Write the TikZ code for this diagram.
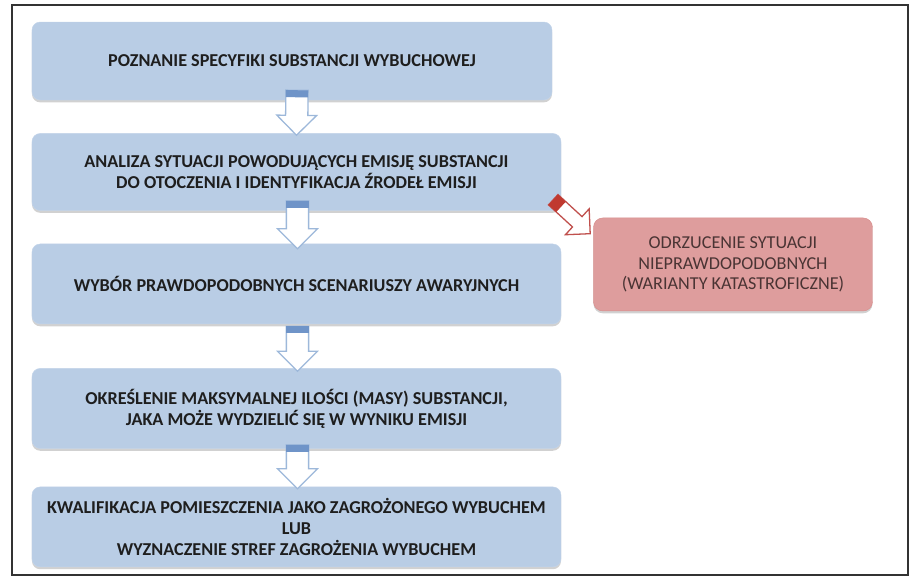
\documentclass[tikz,border=0pt]{standalone}
\usepackage{fontspec}
\setmainfont{Carlito}
\usepackage{tikz}
\usetikzlibrary{positioning, calc, shadows}
\definecolor{boxblue}{HTML}{B9CDE5}
\definecolor{arrblue}{HTML}{9DB8DA}
\definecolor{tailblue}{HTML}{6F94C8}
\definecolor{boxred}{HTML}{DE9D9D}
\definecolor{edgered}{HTML}{C0504D}
\definecolor{tailred}{HTML}{C0392F}
\definecolor{textdark}{HTML}{1E1E1E}
\definecolor{textbrown}{HTML}{4A3434}
\definecolor{framegray}{HTML}{333333}

% hollow block arrow: outline, tail colour, from, to, half shaft, half head, head length, tail length
\newcommand\blockarr[8]{%
  \draw[fill=white, draw=#1, line width=1.1pt, line join=miter]
    let \p1=(#3), \p2=(#4), \n1={atan2(\y2-\y1,\x2-\x1)}, \n2={veclen(\x2-\x1,\y2-\y1)} in
    [shift={(\p1)}, rotate=\n1]
    (0pt,-#5) -- (\n2-#7,-#5) -- (\n2-#7,-#6) -- (\n2,0pt) -- (\n2-#7,#6) -- (\n2-#7,#5) -- (0pt,#5) -- cycle;
  \fill[#2]
    let \p1=(#3), \p2=(#4), \n1={atan2(\y2-\y1,\x2-\x1)} in
    [shift={(\p1)}, rotate=\n1]
    (0pt,-#5) rectangle (#8,#5);
}

\begin{document}
\begin{tikzpicture}[
  x=0.03cm, y=-0.03cm,
  stepbox/.style={rectangle, rounded corners=7pt, fill=boxblue, draw=boxblue!85!white,
                  minimum width=15.87cm, minimum height=2.4cm,
                  font=\fontsize{15.5}{18}\selectfont\bfseries, text=textdark, align=center,
                  drop shadow={shadow xshift=0pt, shadow yshift=-2pt, fill=black!40, opacity=0.45}},
  rejbox/.style={rectangle, rounded corners=8pt, fill=boxred, draw=boxred!80!edgered,
                 minimum width=8.37cm, minimum height=2.79cm,
                 font=\fontsize{15.5}{17.5}\selectfont, text=textbrown, align=center,
                 drop shadow={shadow xshift=0pt, shadow yshift=-2pt, fill=black!40, opacity=0.45}},
]
\useasboundingbox (0,0) rectangle (911,575);
\draw[framegray, line width=0.9pt] (12,5) rectangle (908,575);

\node[stepbox, minimum width=15.6cm, minimum height=2.34cm] (spec) at (292,61)
  {POZNANIE SPECYFIKI SUBSTANCJI WYBUCHOWEJ};
\node[stepbox, minimum height=2.31cm, below=0.99cm of spec.south west, anchor=north west] (anal)
  {ANALIZA SYTUACJI POWODUJĄCYCH EMISJĘ SUBSTANCJI\\DO OTOCZENIA I IDENTYFIKACJA ŹRODEŁ EMISJI};
\node[stepbox, below=0.99cm of anal] (scen)
  {WYBÓR PRAWDOPODOBNYCH SCENARIUSZY AWARYJNYCH};
\node[stepbox, below=1.32cm of scen] (mass)
  {OKREŚLENIE MAKSYMALNEJ ILOŚCI (MASY) SUBSTANCJI,\\JAKA MOŻE WYDZIELIĆ SIĘ W WYNIKU EMISJI};
\node[stepbox, below=1.14cm of mass] (zone)
  {KWALIFIKACJA POMIESZCZENIA JAKO ZAGROŻONEGO WYBUCHEM\\LUB\\WYZNACZENIE STREF ZAGROŻENIA WYBUCHEM};
\node[rejbox, anchor=north west] (rej) at ($(scen.north east)+(0.96cm,0.78cm)$)
  {ODRZUCENIE SYTUACJI\\NIEPRAWDOPODOBNYCH\\(WARIANTY KATASTROFICZNE)};

\blockarr{arrblue}{tailblue}{$(spec.south)+(5,-10)$}{$(anal.north)+(0,2)$}{9.5pt}{17pt}{17pt}{6pt}
\blockarr{arrblue}{tailblue}{$(anal.south)+(1,-10)$}{$(scen.north)+(1,5)$}{9.5pt}{17pt}{17pt}{6pt}
\blockarr{arrblue}{tailblue}{$(scen.south)+(1,2)$}{$(mass.north)+(1,3)$}{9.5pt}{17pt}{17pt}{6pt}
\blockarr{arrblue}{tailblue}{$(mass.south)+(1,-4)$}{$(zone.north)+(1,2)$}{9.5pt}{17pt}{17pt}{6pt}
\blockarr{edgered}{tailred}{$(anal.south east)+(-8,-11)$}{$(rej.north west)+(-3,16)$}{6pt}{15pt}{15pt}{9pt}
\end{tikzpicture}
\end{document}
